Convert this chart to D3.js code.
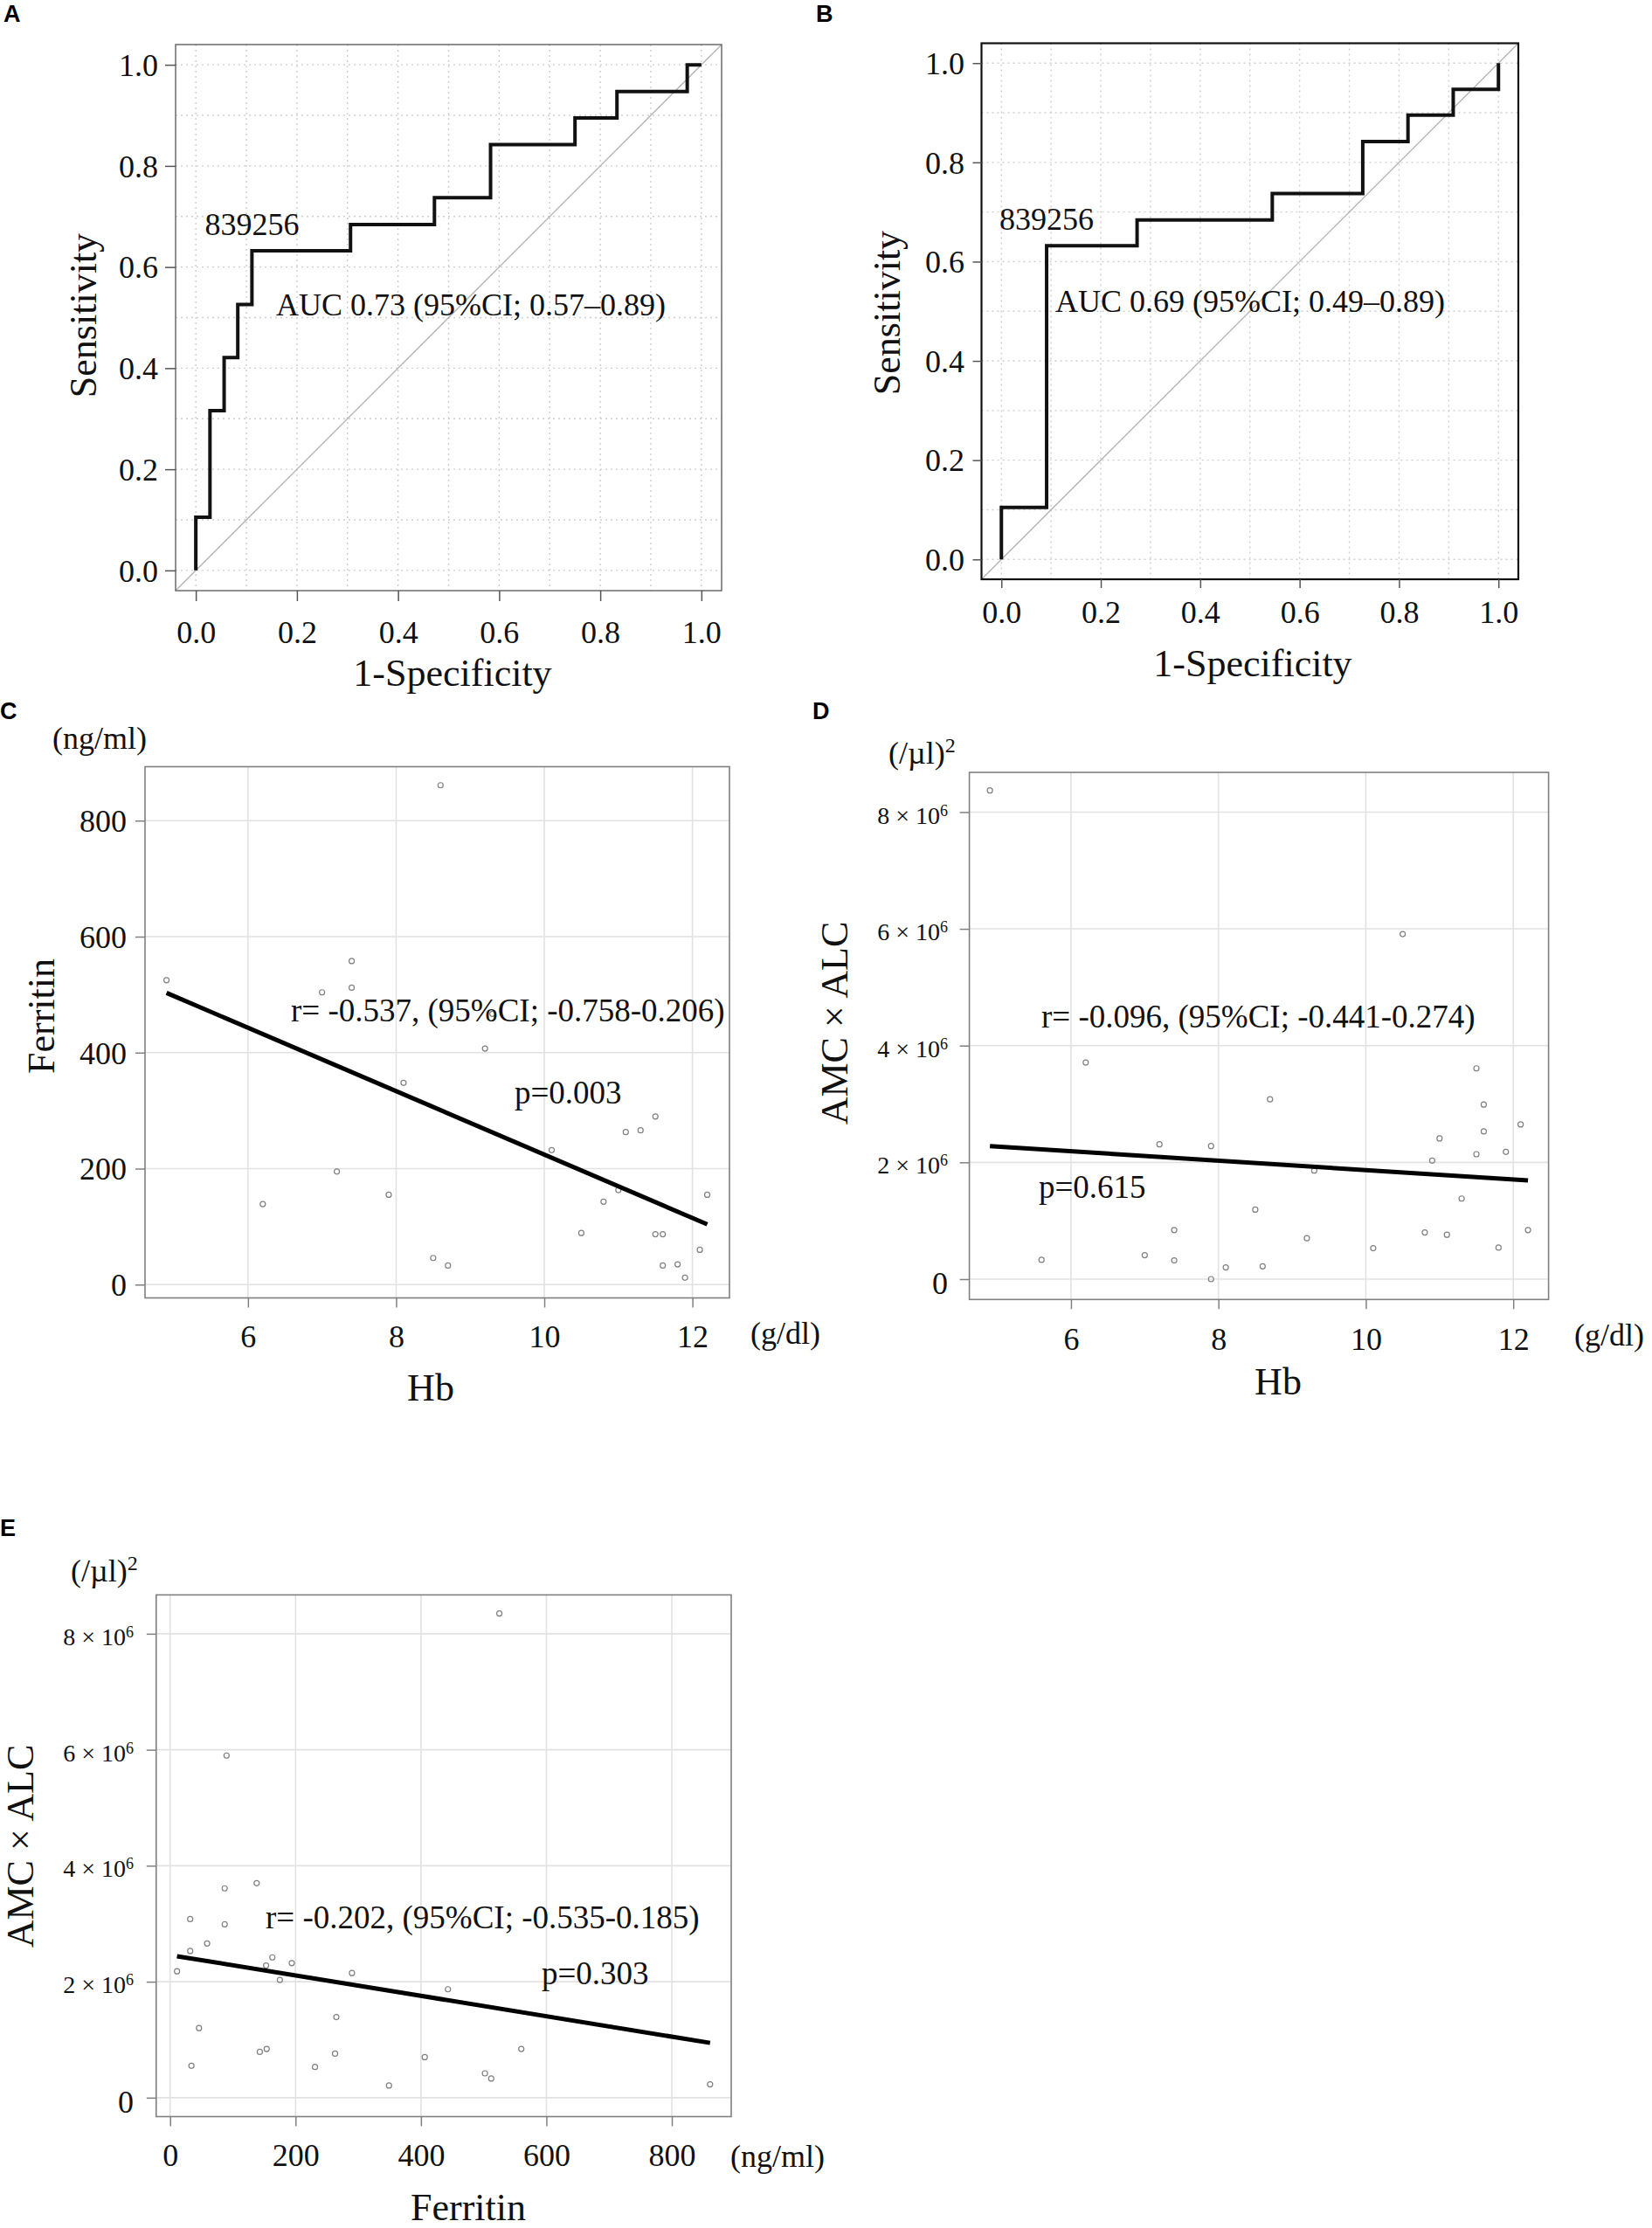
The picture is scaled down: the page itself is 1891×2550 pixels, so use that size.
<!DOCTYPE html>
<html>
<head>
<meta charset="utf-8">
<script src="https://cdn.jsdelivr.net/npm/d3@7"></script>
<style>
  body { margin: 0; background: #fff; }
</style>
</head>
<body>
<script>
// ---- ROC curves (1-specificity / sensitivity at each step corner) ----
var rocAFpr  = [0, 0,     0.028, 0.056, 0.083, 0.111, 0.306, 0.472, 0.583, 0.750, 0.833, 0.972, 1];
var rocASens = [0, 0.105, 0.316, 0.421, 0.526, 0.632, 0.684, 0.737, 0.842, 0.895, 0.947, 1,     1];
var rocACut  = { fpr: 0.111, sens: 0.632, label: "839256" };
var rocAText = "AUC 0.73 (95%CI; 0.57\u20130.89)";

var rocBFpr  = [0, 0,     0.091, 0.273, 0.545, 0.727, 0.818, 0.909, 1];
var rocBSens = [0, 0.105, 0.632, 0.684, 0.737, 0.842, 0.895, 0.947, 1];
var rocBCut  = { fpr: 0.091, sens: 0.632, label: "839256" };
var rocBText = "AUC 0.69 (95%CI; 0.49\u20130.89)";

var rocTicks = [0, 0.2, 0.4, 0.6, 0.8, 1.0];

// ---- C: Hb vs ferritin ----
var hbC       = [4.9, 8.6, 7.4, 7.4, 7.0, 9.3, 9.2, 8.1, 11.5, 11.1, 11.3, 10.1, 7.2, 6.2, 7.9, 11.0, 10.8, 12.2, 10.5, 11.5, 11.6, 12.1, 8.5, 8.7, 11.6, 11.8, 11.9];
var ferritinC = [525, 861, 558, 512, 504, 467, 407, 348, 290, 263, 266, 232, 195, 139, 155, 163, 143, 155, 89, 87, 87, 60, 46, 33, 33, 35, 12];
var fitCx = [4.9, 12.2];
var fitCy = [503, 104];
var textCr = "r= -0.537, (95%CI; -0.758-0.206)";
var textCp = "p=0.003";

// ---- D: Hb vs AMC x ALC ----
var hbD     = [4.9, 10.5, 6.2, 11.5, 8.7, 11.6, 12.1, 11.6, 11.0, 7.2, 7.9, 11.9, 11.5, 10.9, 9.3, 11.3, 8.5, 7.4, 12.2, 10.8, 11.1, 9.2, 11.8, 10.1, 7.0, 5.6, 7.4, 8.1, 8.6, 7.9];
var amcAlcD = [8.37e6, 5.91e6, 3.71e6, 3.61e6, 3.08e6, 2.99e6, 2.65e6, 2.53e6, 2.41e6, 2.31e6, 2.28e6, 2.18e6, 2.14e6, 2.03e6, 1.86e6, 1.38e6, 1.19e6, 0.84e6, 0.84e6, 0.80e6, 0.76e6, 0.70e6, 0.54e6, 0.53e6, 0.41e6, 0.33e6, 0.32e6, 0.20e6, 0.22e6, 0];
var fitDx = [4.9, 12.2];
var fitDy = [2.28e6, 1.69e6];
var textDr = "r= -0.096, (95%CI; -0.441-0.274)";
var textDp = "p=0.615";

// ---- E: ferritin vs AMC x ALC ----
var ferritinE = [525, 90, 138, 87, 32, 87, 59, 32, 163, 194, 153, 11, 290, 175, 443, 265, 46, 154, 560, 143, 263, 406, 231, 34, 502, 512, 349, 861];
var amcAlcE   = [8.35e6, 5.90e6, 3.70e6, 3.61e6, 3.08e6, 2.99e6, 2.66e6, 2.53e6, 2.42e6, 2.32e6, 2.28e6, 2.18e6, 2.15e6, 2.03e6, 1.87e6, 1.39e6, 1.20e6, 0.84e6, 0.84e6, 0.79e6, 0.76e6, 0.70e6, 0.53e6, 0.55e6, 0.42e6, 0.33e6, 0.21e6, 0.23e6];
var fitEx = [11, 861];
var fitEy = [2.44e6, 0.945e6];
var textEr = "r= -0.202, (95%CI; -0.535-0.185)";
var textEp = "p=0.303";

var hbTicks = [6, 8, 10, 12];
var ferritinTicks = [0, 200, 400, 600, 800];
var amcTicks = [0, 2e6, 4e6, 6e6, 8e6];

var SERIF = "'Liberation Serif', 'Times New Roman', serif";
var SANS = "'Liberation Sans', Arial, sans-serif";

var svg = d3.select("body").append("svg")
  .attr("width", 1891)
  .attr("height", 2550)
  .style("font-family", SERIF);
svg.append("rect").attr("width", 1891).attr("height", 2550).attr("fill", "#fff");

// Panel letter (A, B, ...)
var panelLetter = function(txt, x, y) {
  svg.append("text")
    .attr("x", x).attr("y", y)
    .attr("font-family", SANS)
    .attr("font-weight", "bold")
    .attr("font-size", 27)
    .attr("fill", "#000")
    .text(txt);
}

var plainText = function(txt, x, y, size, anchor) {
  return svg.append("text")
    .attr("x", x).attr("y", y)
    .attr("font-size", size)
    .attr("text-anchor", anchor || "start")
    .attr("fill", "#111")
    .text(txt);
}

var rotatedText = function(txt, x, y, size) {
  svg.append("text")
    .attr("transform", "translate(" + x + "," + y + ") rotate(-90)")
    .attr("font-size", size)
    .attr("text-anchor", "middle")
    .attr("fill", "#111")
    .text(txt);
}

// Bottom + left axes with ticks only (box is drawn separately)
var drawAxes = function(p, x, y, xTicks, yTicks, xFmt, yFmt) {
  var b = p.box;
  var gx = svg.append("g")
    .attr("transform", "translate(0," + b[3] + ")")
    .call(d3.axisBottom(x).tickValues(xTicks).tickFormat(xFmt).tickSize(p.tick).tickSizeOuter(0));
  gx.select(".domain").remove();
  gx.attr("font-family", SERIF).attr("font-size", 36).attr("color", p.axisColor);
  gx.selectAll(".tick line").attr("stroke-width", 1.5);
  gx.selectAll(".tick text").attr("fill", "#111").attr("y", p.xLabelBase - b[3]).attr("dy", null);

  var gy = svg.append("g")
    .attr("transform", "translate(" + b[0] + ",0)")
    .call(d3.axisLeft(y).tickValues(yTicks).tickFormat(yFmt).tickSize(p.tick).tickSizeOuter(0));
  gy.select(".domain").remove();
  gy.attr("font-family", SERIF).attr("font-size", 36).attr("color", p.axisColor);
  gy.selectAll(".tick line").attr("stroke-width", 1.5);
  gy.selectAll(".tick text").attr("fill", "#111").attr("x", p.yLabelRight - b[0]);
  return gy;
}

var drawBox = function(p) {
  var b = p.box;
  svg.append("rect")
    .attr("x", b[0]).attr("y", b[1])
    .attr("width", b[2] - b[0]).attr("height", b[3] - b[1])
    .attr("fill", "none")
    .attr("stroke", p.boxColor)
    .attr("stroke-width", p.boxWidth);
}

// ROC panel
var drawRoc = function(p, fpr, sens, cut, aucText) {
  var b = p.box;
  var x = d3.scaleLinear().domain([-0.04, 1.04]).range([b[0], b[2]]);
  var y = d3.scaleLinear().domain([-0.04, 1.04]).range([b[3], b[1]]);
  var grid = d3.range(0, 11).map(i => i / 10);

  var gg = svg.append("g").attr("stroke", "#cfcfcf").attr("stroke-width", 1.4).attr("stroke-dasharray", "2,4");
  gg.selectAll("line.v").data(grid).join("line").classed("v", true)
    .attr("x1", d => x(d)).attr("x2", d => x(d)).attr("y1", b[1]).attr("y2", b[3]);
  gg.selectAll("line.h").data(grid).join("line").classed("h", true)
    .attr("y1", d => y(d)).attr("y2", d => y(d)).attr("x1", b[0]).attr("x2", b[2]);

  // chance diagonal
  svg.append("line")
    .attr("x1", x(-0.04)).attr("y1", y(-0.04))
    .attr("x2", x(1.04)).attr("y2", y(1.04))
    .attr("stroke", "#b3b3b3").attr("stroke-width", 1.3);

  drawBox(p);
  var gy = drawAxes(p, x, y, rocTicks, rocTicks, d3.format(".1f"), d3.format(".1f"));
  gy.selectAll(".tick text").attr("dy", "0.34em");

  var pts = fpr.map((f, i) => [f, sens[i]]);
  svg.append("path")
    .attr("d", d3.line().x(d => x(d[0])).y(d => y(d[1])).curve(d3.curveStepAfter)(pts))
    .attr("fill", "none")
    .attr("stroke", "#111")
    .attr("stroke-width", 4)
    .attr("stroke-linejoin", "miter");

  plainText(cut.label, x(cut.fpr), y(cut.sens) - 18, 36, "middle");
  plainText(aucText, p.auc[0], p.auc[1], 36);
  plainText("1-Specificity", p.xTitle[0], p.xTitle[1], 44, "middle");
  rotatedText("Sensitivity", p.yTitle[0], p.yTitle[1], 44);
}

// Scatter panel with regression line
var drawScatter = function(p, xs, ys, fitX, fitY, rText, pText) {
  var b = p.box;
  var x = d3.scaleLinear().domain(p.xDomain).range([b[0], b[2]]);
  var y = d3.scaleLinear().domain(p.yDomain).range([b[3], b[1]]);

  var gg = svg.append("g").attr("stroke", "#e2e2e2").attr("stroke-width", 1.6);
  gg.selectAll("line.v").data(p.xTicks).join("line").classed("v", true)
    .attr("x1", d => x(d)).attr("x2", d => x(d)).attr("y1", b[1]).attr("y2", b[3]);
  gg.selectAll("line.h").data(p.yTicks).join("line").classed("h", true)
    .attr("y1", d => y(d)).attr("y2", d => y(d)).attr("x1", b[0]).attr("x2", b[2]);

  drawBox(p);
  var gy = drawAxes(p, x, y, p.xTicks, p.yTicks, d3.format("d"), d3.format("d"));
  if (p.sciY) {
    // "8 x 10^6" style labels, plain "0"
    gy.selectAll(".tick text").each(function(d) {
      var t = d3.select(this).text("");
      if (d === 0) {
        t.attr("dy", "0.45em").text("0");
      } else {
        t.attr("font-size", 28).attr("dy", "0.45em");
        t.append("tspan").text((d / 1e6) + " \u00d7 10");
        t.append("tspan").attr("dy", "-0.5em").attr("font-size", 18).text("6");
      }
    });
  } else {
    gy.selectAll(".tick text").attr("dy", "0.34em");
  }

  svg.append("g").selectAll("circle").data(xs.map((v, i) => [v, ys[i]])).join("circle")
    .attr("cx", d => x(d[0]))
    .attr("cy", d => y(d[1]))
    .attr("r", 3)
    .attr("fill", "none")
    .attr("stroke", "#808080")
    .attr("stroke-width", 1.2);

  svg.append("line")
    .attr("x1", x(fitX[0])).attr("y1", y(fitY[0]))
    .attr("x2", x(fitX[1])).attr("y2", y(fitY[1]))
    .attr("stroke", "#000")
    .attr("stroke-width", 5);

  plainText(rText, p.rPos[0], p.rPos[1], 37);
  plainText(pText, p.pPos[0], p.pPos[1], 37);
  plainText(p.xTitle, p.xTitlePos[0], p.xTitlePos[1], 44, "middle");
  rotatedText(p.yTitle, p.yTitlePos[0], p.yTitlePos[1], 44);
  plainText(p.xUnit, p.xUnitPos[0], p.xUnitPos[1], 36);
  var yu = plainText(p.yUnit, p.yUnitPos[0], p.yUnitPos[1], 36);
  if (p.yUnitSup) yu.append("tspan").attr("dy", "-0.55em").attr("font-size", 24).text(p.yUnitSup);
}

// ---- layouts ----
var panelA = {
  box: [201, 51, 826, 676], boxColor: "#6b6b6b", boxWidth: 1.5, axisColor: "#555", tick: 12,
  xLabelBase: 736, yLabelRight: 181,
  auc: [316, 361], xTitle: [518, 785], yTitle: [110, 361]
};
var panelB = {
  box: [1123.5, 49.5, 1738, 663], boxColor: "#111", boxWidth: 2.2, axisColor: "#555", tick: 10,
  xLabelBase: 713, yLabelRight: 1104,
  auc: [1208, 357], xTitle: [1434, 774], yTitle: [1030, 358]
};
var panelC = {
  box: [166, 877.5, 835, 1485.5], boxColor: "#808080", boxWidth: 1.6, axisColor: "#808080", tick: 11,
  xDomain: [4.61, 12.50], yDomain: [-22.9, 893], xTicks: hbTicks, yTicks: ferritinTicks,
  xLabelBase: 1542, yLabelRight: 145,
  rPos: [333, 1169], pPos: [589, 1263],
  xTitle: "Hb", xTitlePos: [493, 1603], yTitle: "Ferritin", yTitlePos: [62, 1163],
  xUnit: "(g/dl)", xUnitPos: [859, 1538], yUnit: "(ng/ml)", yUnitPos: [60, 857]
};
var panelD = {
  box: [1109.6, 884, 1772.6, 1487.3], boxColor: "#808080", boxWidth: 1.6, axisColor: "#808080", tick: 11,
  xDomain: [4.621, 12.479], yDomain: [-0.349e6, 8.68e6], xTicks: hbTicks, yTicks: amcTicks, sciY: true,
  xLabelBase: 1545, yLabelRight: 1085,
  rPos: [1192, 1175.5], pPos: [1189, 1370.5],
  xTitle: "Hb", xTitlePos: [1463, 1596], yTitle: "AMC \u00d7 ALC", yTitlePos: [970, 1171],
  xUnit: "(g/dl)", xUnitPos: [1802, 1540], yUnit: "(/\u00b5l)", yUnitSup: "2", yUnitPos: [1017, 874]
};
var panelE = {
  box: [178.8, 1825.4, 837, 2422.5], boxColor: "#808080", boxWidth: 1.6, axisColor: "#808080", tick: 11,
  xDomain: [-22.2, 894.7], yDomain: [-0.326e6, 8.67e6], xTicks: ferritinTicks, yTicks: amcTicks, sciY: true,
  xLabelBase: 2479, yLabelRight: 153,
  rPos: [304, 2207], pPos: [620, 2271],
  xTitle: "Ferritin", xTitlePos: [536, 2541], yTitle: "AMC \u00d7 ALC", yTitlePos: [38, 2113],
  xUnit: "(ng/ml)", xUnitPos: [836, 2480], yUnit: "(/\u00b5l)", yUnitSup: "2", yUnitPos: [81, 1810]
};

drawRoc(panelA, rocAFpr, rocASens, rocACut, rocAText);
drawRoc(panelB, rocBFpr, rocBSens, rocBCut, rocBText);
drawScatter(panelC, hbC, ferritinC, fitCx, fitCy, textCr, textCp);
drawScatter(panelD, hbD, amcAlcD, fitDx, fitDy, textDr, textDp);
drawScatter(panelE, ferritinE, amcAlcE, fitEx, fitEy, textEr, textEp);

panelLetter("A", 4, 25);
panelLetter("B", 934, 25);
panelLetter("C", 0, 823);
panelLetter("D", 930, 823);
panelLetter("E", 0, 1758);
</script>
</body>
</html>
